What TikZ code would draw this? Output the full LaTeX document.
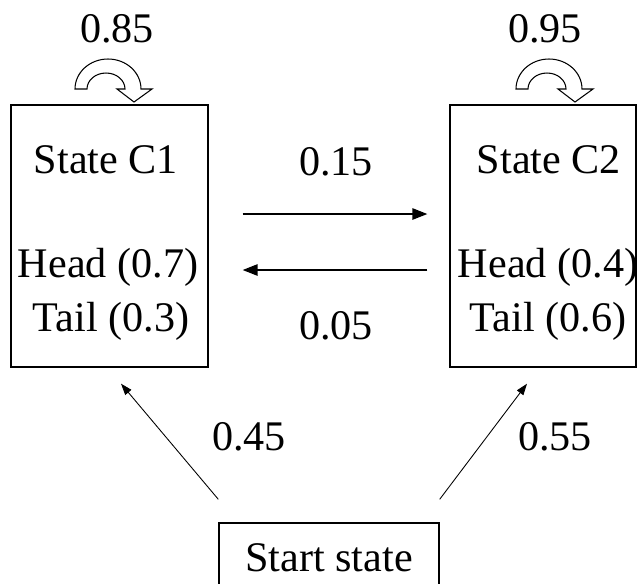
\documentclass[tikz,border=0pt]{standalone}
\usepackage{fontspec}
\setmainfont{Liberation Serif}
\usetikzlibrary{positioning,calc,arrows.meta}
\tikzset{>={Triangle[length=8.5pt,width=6.5pt]}}
\tikzset{box/.style={draw,line width=.8pt,inner sep=0pt},
  txt/.style={font=\fontsize{24}{29}\selectfont,inner sep=0pt,anchor=base},
  diag/.style={->,>={Triangle[length=6.5pt,width=4.5pt]},line width=.5pt}}

\begin{document}
\begin{tikzpicture}[x=.02cm,y=-.02cm]
\useasboundingbox (0,0) rectangle (642,583);
\node[box,minimum width=3.94cm,minimum height=5.24cm] (c1) at (109.5,236) {};
\node[box,minimum width=3.72cm,minimum height=5.24cm] (c2) at (543,236) {};
\node[box,minimum width=4.4cm,minimum height=1.4cm] (start) at (329,558) {};
% texts in the boxes
\node[txt] (s1) at (106,173) {State C1};
\node[txt] (h1) at (108,277) {Head (0.7)};
\node[txt] (t1) at (111,331) {Tail (0.3)};
\node[txt] (s2) at (549,173) {State C2};
\node[txt] (h2) at (548,277) {Head (0.4)};
\node[txt] (t2) at (548,331) {Tail (0.6)};
\node[txt] (st) at (329,571) {Start state};
% curved self arrows
\foreach \x in {75,516}
  \draw[line width=.6pt,fill=white,shift={(\x,0)}] (0,89)
    arc[start angle=180,end angle=360,x radius=33,y radius=30]
    -- (77,89) -- (59,102) -- (42,89) -- (50,89)
    arc[start angle=360,end angle=180,x radius=19,y radius=16] -- cycle;
\node[txt] (p11) at (117,42) {0.85};
\node[txt] (p22) at (545,42) {0.95};
% between the states
\draw[->,line width=.8pt] ($(c1.east)+(34,-22)$) -- ($(c2.west)+(-22,-22)$);
\draw[->,line width=.8pt] ($(c2.west)+(-22,34)$) -- ($(c1.east)+(34,34)$);
\node[txt] (p12) at (336,175) {0.15};
\node[txt] (p21) at (336,339) {0.05};
% from the start state
\coordinate (a1) at ($(start.north west)+(0,-23)$);
\coordinate (a2) at ($(start.north east)+(0,-23)$);
\draw[diag] (a1) -- ($(c1.south)+(11.5,16)$);
\draw[diag] (a2) -- ($(c2.south)+(-16,16)$);
\node[txt] (p1) at (249,450) {0.45};
\node[txt] (p2) at (555,450) {0.55};
\end{tikzpicture}
\end{document}
